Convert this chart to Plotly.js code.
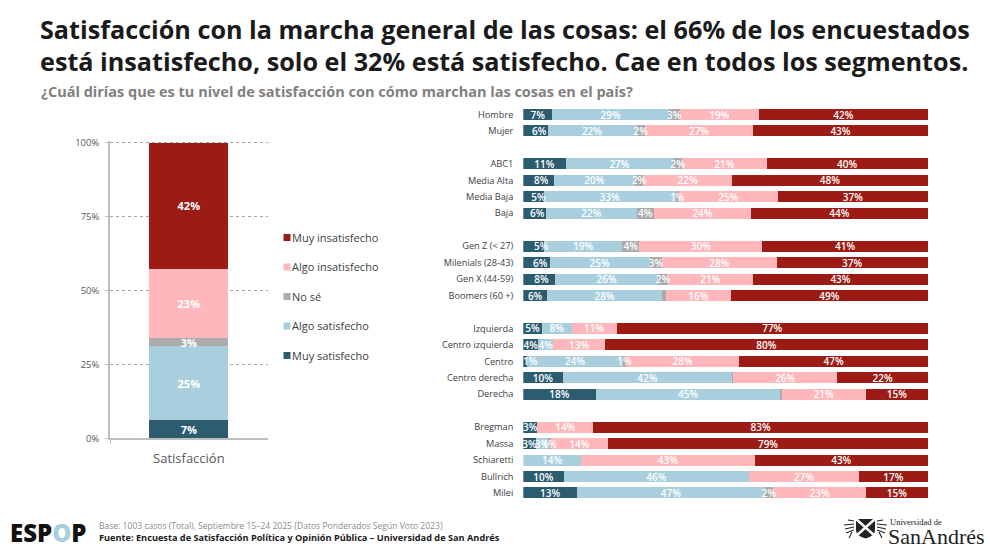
<!DOCTYPE html>
<html><head><meta charset="utf-8">
<script src="https://cdn.plot.ly/plotly-3.0.1.min.js"></script>
<style>html,body{margin:0;padding:0;background:#fff}#c{width:990px;height:548px}</style>
</head><body><div id="c"></div>
<script>
const seriesNames=['Muy satisfecho','Algo satisfecho','No sé','Algo insatisfecho','Muy insatisfecho'];
const seriesColors=['#2C5C70','#A9CFDF','#ABABAB','#FFB7BB','#9C1C15'];

const totalLabel=['Satisfacción'];
const totalValues=[6.2,25,2.7,23.4,42.7];
const totalText=['7%','25%','3%','23%','42%'];
const percentTicks=[0,25,50,75,100];
const percentTickText=['0%','25%','50%','75%','100%'];

const rows=['Hombre','Mujer',' ','ABC1','Media Alta','Media Baja','Baja','  ','Gen Z (< 27)','Milenials (28-43)','Gen X (44-59)','Boomers (60 +)','   ','Izquierda','Centro izquierda','Centro','Centro derecha','Derecha','    ','Bregman','Massa','Schiaretti','Bullrich','Milei'];

const muySat=[7.2,6.0,null,10.5,7.6,5.0,5.7,null,5.1,6.5,7.8,5.9,null,4.6,3.7,0.9,9.7,17.9,null,3.5,3.1,0,10.0,13.3];
const algoSat=[28.8,22.0,null,26.6,20.0,32.7,22.3,null,19.4,24.8,25.6,28.4,null,7.4,3.7,23.8,42.0,45.7,null,0,3.1,14.3,45.8,46.4];
const noSe=[2.7,2.1,null,2.2,2.1,0.8,4.3,null,4.2,3.0,2.3,1.0,null,0,0,0.7,0.2,0.2,null,0,0.6,0,0,2.1];
const algoInsat=[19.5,26.7,null,20.8,21.9,24.4,24.0,null,30.4,28.3,21.1,16.0,null,11.1,12.8,28.0,25.7,20.9,null,13.8,14.2,42.9,27.1,22.9];
const muyInsat=[41.8,43.2,null,39.9,48.4,37.1,43.7,null,40.9,37.4,43.2,48.7,null,76.9,79.8,46.6,22.4,15.3,null,82.7,79.0,42.8,17.1,15.3];

const n2='\u00A0\u00A0',n3=n2+'\u00A0',n4=n2+n2,n6=n4+n2;
const muySatText=['7%',n3+'6%','','11%',n2+'8%',n4+'5%',n2+'6%','',n6+'5%',n3+'6%',n2+'8%','6%','','5%','4%',n4+'1%','10%','18%','','3%','3%','','10%','13%'];
const algoSatText=['29%','22%','','27%','20%','33%','22%','','19%','25%','26%','28%','','8%','4%','24%','42%','45%','','','3%','14%','46%','47%'];
const noSeText=['3%','2%','','2%','2%','1%','4%','','4%','3%','2%','','','','','1%','','','','','1%','','','2%'];
const algoInsatText=['19%','27%','','21%','22%','25%','24%','','30%','28%','21%','16%','','11%','13%','28%','26%','21%','','14%','14%','43%','27%','23%'];
const muyInsatText=['42%','43%','','40%','48%','37%','44%','','41%','37%','43%','49%','','77%','80%','47%','22%','15%','','83%','79%','43%','17%','15%'];

const rowValues=[muySat,algoSat,noSe,algoInsat,muyInsat];
const rowText=[muySatText,algoSatText,noSeText,algoInsatText,muyInsatText];

const F='"Open Sans", sans-serif';
const traces=[];
seriesNames.forEach((n,i)=>{
  traces.push({type:'bar',name:n,x:totalLabel,y:[totalValues[i]],width:0.5,xaxis:'x',yaxis:'y',
    marker:{color:seriesColors[i]},text:[totalText[i]],textposition:'inside',insidetextanchor:'middle',
    textangle:0,constraintext:'none',textfont:{family:F,size:11,color:'#fff',weight:700},
    legendgroup:n,legendrank:5-i,showlegend:true,hoverinfo:'skip'});
});
// visible segments
seriesNames.forEach((n,i)=>{
  traces.push({type:'bar',orientation:'h',name:n,y:rows,x:rowValues[i],xaxis:'x2',yaxis:'y2',
    marker:{color:seriesColors[i]},
    legendgroup:n,legendrank:5-i,showlegend:false,hoverinfo:'skip'});
});
// same stack on an overlaid axis pair: only its labels show, so they sit above every segment
seriesNames.forEach((n,i)=>{
  traces.push({type:'bar',orientation:'h',name:n,y:rows,x:rowValues[i],xaxis:'x3',yaxis:'y3',
    marker:{color:'rgba(0,0,0,0)'},text:rowText[i],textposition:'inside',insidetextanchor:'middle',
    textangle:0,constraintext:'none',textfont:{family:F,size:10,color:'#fff',weight:600},cliponaxis:false,
    legendgroup:n,legendrank:5-i,showlegend:false,hoverinfo:'skip'});
});
const W=990,H=548;
const px=v=>v/W, py=v=>1-v/H;
const crest='data:image/svg+xml;utf8,'+encodeURIComponent(
 '<svg xmlns="http://www.w3.org/2000/svg" viewBox="0 0 45 21">'+
 '<path d="M13 1H32V12Q32 18 22.5 20.5Q13 18 13 12Z" fill="#222"/>'+
 '<path d="M13 1L32 18M32 1L13 18" stroke="#fff" stroke-width="2.4"/>'+
 '<g stroke="#222" stroke-width="1.1" fill="none"><path d="M11 6L1 7M11 9L2 11M11 12L3 15M11 3L5 2M6 20L9 14"/>'+
 '<path d="M34 6L44 7M34 9L43 11M34 12L42 15M34 3L40 2M39 20L36 14"/></g></svg>');
const rightY={domain:[py(501.2),py(106.3)],type:'category',categoryorder:'array',categoryarray:rows,range:[23.5,-0.5],
    ticks:'',showline:false,showgrid:false,zeroline:false};
const layout={
  width:W,height:H,margin:{l:0,r:0,t:0,b:0},paper_bgcolor:'#fff',plot_bgcolor:'rgba(0,0,0,0)',
  barmode:'stack',bargap:0.33,
  font:{family:F,color:'#595959',size:10},
  title:{text:'Satisfacción con la marcha general de las cosas: el 66% de los encuestados<br>está insatisfecho, solo el 32% está satisfecho. Cae en todos los segmentos.',
    x:px(40),xanchor:'left',xref:'paper',y:py(38.5),yanchor:'middle',yref:'container',
    font:{family:F,size:25.2,color:'#1a1a1a',weight:700}},
  xaxis:{domain:[px(110),px(267.7)],type:'category',range:[-0.5,0.5],tickson:'boundaries',ticks:'outside',ticklen:4,tickcolor:'#BFBFBF',
    tickwidth:1,showline:true,linecolor:'#BFBFBF',linewidth:1.5,showgrid:false,zeroline:false,
    tickfont:{family:F,size:13,color:'#595959'},ticklabelstandoff:7},
  yaxis:{domain:[py(438.3),py(141.2)],range:[0,100.5],tickmode:'array',tickvals:percentTicks,ticktext:percentTickText,ticks:'outside',ticklen:3,tickcolor:'#BFBFBF',
    showline:true,linecolor:'#BFBFBF',linewidth:1.5,showgrid:true,gridcolor:'#A6A6A6',griddash:'3px,3px',gridwidth:1,zeroline:false,
    tickfont:{family:F,size:9.5,color:'#595959'},ticklabelstandoff:4},
  xaxis2:{domain:[px(523.3),px(928)],range:[0,100],visible:false,anchor:'y2'},
  yaxis2:Object.assign({},rightY,{anchor:'x2',tickmode:'array',tickvals:rows,ticktext:rows,
    tickfont:{family:F,size:9.2,color:'#404040'},ticklabelstandoff:9}),
  xaxis3:{domain:[px(523.3),px(928)],range:[0,100],visible:false,overlaying:'x2',anchor:'y3'},
  yaxis3:Object.assign({},rightY,{anchor:'x3',overlaying:'y2',visible:false}),
  legend:{x:px(252),xanchor:'left',y:py(223),yanchor:'top',traceorder:'grouped',tracegroupgap:10.5,bgcolor:'rgba(0,0,0,0)',
    font:{family:F,size:11,color:'#404040'},itemclick:false,itemdoubleclick:false},
  annotations:[
    {text:'¿Cuál dirías que es tu nivel de satisfacción con cómo marchan las cosas en el país?',xref:'paper',yref:'paper',x:px(38.5),y:py(91),xanchor:'left',yanchor:'middle',showarrow:false,font:{family:F,size:14.5,color:'#7F7F7F',weight:700}},
    {text:'ESP<span style="color:#A9CFDF">O</span>P',xref:'paper',yref:'paper',x:px(8),y:py(532),xanchor:'left',yanchor:'middle',showarrow:false,font:{family:F,size:24,color:'#111',weight:800}},
    {text:'Base: 1003 casos (Total), Septiembre 15–24 2025 [Datos Ponderados Según Voto 2023]',xref:'paper',yref:'paper',x:px(97),y:py(526),xanchor:'left',yanchor:'middle',showarrow:false,font:{family:F,size:8.55,color:'#8C8C8C'}},
    {text:'Fuente: Encuesta de Satisfacción Política y Opinión Pública – Universidad de San Andrés',xref:'paper',yref:'paper',x:px(97),y:py(537),xanchor:'left',yanchor:'middle',showarrow:false,font:{family:F,size:9.2,color:'#1a1a1a',weight:700}},
    {text:'Universidad de',xref:'paper',yref:'paper',x:px(888),y:py(522),xanchor:'left',yanchor:'middle',showarrow:false,font:{family:'"Liberation Serif", serif',size:8.5,color:'#222'}},
    {text:'SanAndrés',xref:'paper',yref:'paper',x:px(886),y:py(536),xanchor:'left',yanchor:'middle',showarrow:false,font:{family:'"Liberation Serif", serif',size:22,color:'#222'}}
  ],
  images:[{source:crest,xref:'paper',yref:'paper',x:px(843),y:py(518),sizex:px(45),sizey:21/H,xanchor:'left',yanchor:'top',sizing:'stretch',layer:'above'}]
};
Plotly.newPlot('c',traces,layout,{displayModeBar:false}).then(()=>{
  document.querySelectorAll('#c .legend .legendpoints path').forEach(p=>{
    p.setAttribute('d','M18.5,3.5H11.5V-3.5H18.5Z');
  });
});
</script></body></html>
